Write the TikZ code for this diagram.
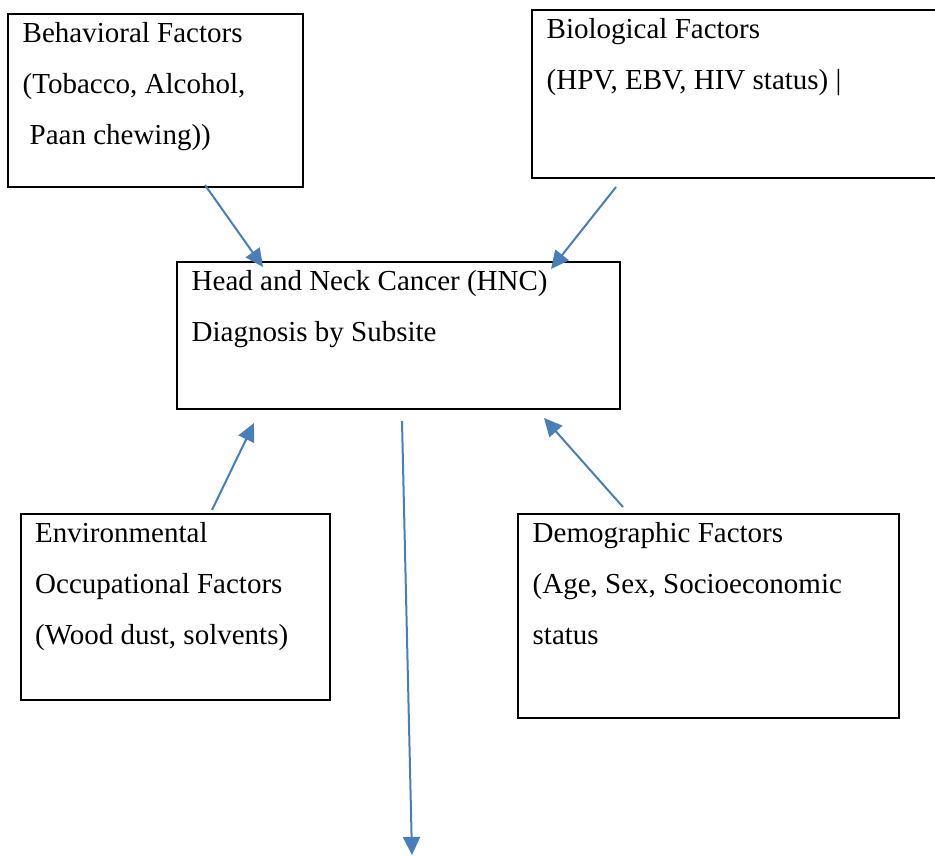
\documentclass[tikz,border=0pt]{standalone}
\usepackage{fontspec}
\setmainfont{Liberation Serif}
\usepackage{tikz}
\usetikzlibrary{calc,arrows.meta}

\definecolor{arrblue}{RGB}{74,126,187}
\newcommand{\fstrut}{\rule{0pt}{28pt}}

\begin{document}
\begin{tikzpicture}
	[   x=1pt,y=-1pt,
		fbox/.style={draw=black,line width=2.2pt,outer sep=0pt,inner sep=0pt,anchor=north west,rectangle},
		ftext/.style={anchor=north west,inner sep=0pt,align=left,xshift=14.5pt,font=\fontsize{29pt}{51pt}\selectfont},
	]
	\tikzset{normal arrow/.style={draw=arrblue,line width=2pt,-{Triangle[length=18pt,width=17pt]}}}
	\useasboundingbox (0,0) rectangle (935,855);
	
	\node[fbox,minimum width=295pt,minimum height=173pt,
		label={[ftext]north west:{\fstrut Behavioral Factors\\(Tobacco, Alcohol,\\\hspace*{7pt}Paan chewing))}}] (f-1) at (8,14) {};
	\node[fbox,minimum width=420pt,minimum height=168pt,
		label={[ftext]north west:{\fstrut Biological Factors\\(HPV, EBV, HIV status) |}}] (f-2) at (532,10) {};
	\node[fbox,minimum width=443pt,minimum height=147pt,
		label={[ftext]north west:{\fstrut Head and Neck Cancer (HNC)\\Diagnosis by Subsite}}] (hnc) at (177,262) {};
	\node[fbox,minimum width=309pt,minimum height=186pt,
		label={[ftext,xshift=-0.5pt]north west:{\fstrut Environmental\\Occupational Factors\\(Wood dust, solvents)}}] (f-3) at (21,514) {};
	\node[fbox,minimum width=381pt,minimum height=204pt,
		label={[ftext]north west:{\fstrut Demographic Factors\\(Age, Sex, Socioeconomic\\status}}] (f-4) at (518,514) {};
	\coordinate (out) at (412,855);
	
	% factors into the diagnosis box
	\path[normal arrow] ($(f-1.south west)+(197,-2)$) -- ($(hnc.north west)+(86,5)$);
	\path[normal arrow] ($(f-2.south west)+(84,9)$) -- ($(hnc.north west)+(374,7)$);
	\path[normal arrow] ($(f-3.north west)+(191,-4)$) -- ($(hnc.south west)+(77,14)$);
	\path[normal arrow] ($(f-4.north west)+(105,-7)$) -- ($(hnc.south west)+(367,9)$);
	
	\path[normal arrow] ($(hnc.south west)+(225,12)$) -- (out);
\end{tikzpicture}
\end{document}
